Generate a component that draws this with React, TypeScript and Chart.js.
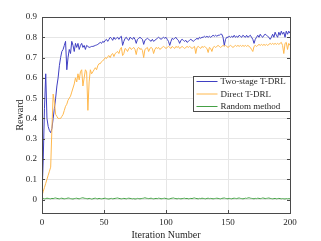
import { useEffect, useRef } from "react";
import { Chart, registerables } from "chart.js";

Chart.register(...registerables);

const seriesNames = ["Two-stage T-DRL", "Direct T-DRL", "Random method"];
const xTicks = [0, 50, 100, 150, 200];
const yTicks = [0, 0.1, 0.2, 0.3, 0.4, 0.5, 0.6, 0.7, 0.8, 0.9];

const twoStage = [
  0.02, 0.20, 0.45, 0.62, 0.40, 0.36, 0.34, 0.33, 0.35, 0.40,
  0.45, 0.50, 0.56, 0.60, 0.66, 0.70, 0.73, 0.74, 0.76, 0.78,
  0.64, 0.70, 0.74, 0.72, 0.78, 0.76, 0.73, 0.77, 0.75, 0.77,
  0.74, 0.76, 0.77, 0.75, 0.76, 0.74, 0.76, 0.755, 0.75, 0.752,
  0.755, 0.755, 0.757, 0.76, 0.762, 0.765, 0.77, 0.775, 0.77, 0.78,
  0.775, 0.785, 0.79, 0.78, 0.79, 0.80, 0.795, 0.785, 0.80, 0.79,
  0.795, 0.80, 0.79, 0.80, 0.805, 0.76, 0.78, 0.795, 0.80, 0.79,
  0.785, 0.80, 0.795, 0.79, 0.80, 0.79, 0.77, 0.79, 0.795, 0.80,
  0.795, 0.79, 0.765, 0.785, 0.79, 0.795, 0.79, 0.785, 0.78, 0.79,
  0.78, 0.785, 0.79, 0.795, 0.80, 0.795, 0.79, 0.795, 0.80, 0.795,
  0.80, 0.79, 0.78, 0.76, 0.78, 0.795, 0.79, 0.795, 0.80, 0.79,
  0.785, 0.77, 0.785, 0.79, 0.785, 0.78, 0.785, 0.775, 0.78, 0.785,
  0.79, 0.785, 0.78, 0.785, 0.79, 0.795, 0.79, 0.80, 0.795, 0.80,
  0.80, 0.805, 0.80, 0.805, 0.80, 0.805, 0.80, 0.805, 0.81, 0.805,
  0.81, 0.805, 0.81, 0.81, 0.815, 0.815, 0.80, 0.76, 0.79, 0.80,
  0.80, 0.805, 0.80, 0.805, 0.80, 0.81, 0.80, 0.805, 0.80, 0.81,
  0.805, 0.80, 0.81, 0.805, 0.80, 0.81, 0.80, 0.805, 0.81, 0.80,
  0.79, 0.77, 0.79, 0.80, 0.81, 0.80, 0.815, 0.805, 0.80, 0.81,
  0.815, 0.81, 0.805, 0.80, 0.79, 0.80, 0.815, 0.80, 0.825, 0.81,
  0.80, 0.825, 0.81, 0.83, 0.815, 0.825, 0.80, 0.83, 0.815, 0.83,
  0.82,
];

const direct = [
  0.02, 0.04, 0.06, 0.08, 0.10, 0.12, 0.14, 0.16, 0.35, 0.52,
  0.48, 0.42, 0.41, 0.40, 0.40, 0.40, 0.41, 0.42, 0.44, 0.46,
  0.47, 0.49, 0.50, 0.51, 0.53, 0.55, 0.57, 0.60, 0.58, 0.62,
  0.59, 0.63, 0.64, 0.56, 0.60, 0.64, 0.63, 0.44, 0.58, 0.64,
  0.62, 0.63, 0.64, 0.65, 0.64, 0.66, 0.67, 0.67, 0.68, 0.685,
  0.69, 0.70, 0.695, 0.705, 0.71, 0.70, 0.715, 0.72, 0.705, 0.72,
  0.725, 0.73, 0.72, 0.74, 0.75, 0.71, 0.72, 0.745, 0.74, 0.73,
  0.745, 0.75, 0.74, 0.745, 0.75, 0.74, 0.715, 0.745, 0.75, 0.74,
  0.745, 0.735, 0.70, 0.74, 0.745, 0.75, 0.73, 0.745, 0.75, 0.745,
  0.72, 0.74, 0.75, 0.745, 0.75, 0.74, 0.745, 0.75, 0.755, 0.75,
  0.745, 0.75, 0.755, 0.75, 0.745, 0.755, 0.75, 0.745, 0.755, 0.75,
  0.755, 0.745, 0.75, 0.755, 0.75, 0.745, 0.75, 0.755, 0.75, 0.755,
  0.75, 0.745, 0.75, 0.755, 0.72, 0.75, 0.755, 0.75, 0.745, 0.755,
  0.75, 0.755, 0.75, 0.745, 0.725, 0.75, 0.745, 0.73, 0.75, 0.755,
  0.75, 0.755, 0.76, 0.755, 0.75, 0.755, 0.76, 0.755, 0.76, 0.755,
  0.75, 0.755, 0.76, 0.755, 0.75, 0.755, 0.76, 0.755, 0.76, 0.755,
  0.76, 0.755, 0.76, 0.755, 0.76, 0.755, 0.76, 0.755, 0.75, 0.74,
  0.73, 0.755, 0.76, 0.755, 0.76, 0.765, 0.76, 0.765, 0.76, 0.765,
  0.76, 0.765, 0.76, 0.765, 0.77, 0.765, 0.77, 0.765, 0.77, 0.765,
  0.77, 0.765, 0.77, 0.775, 0.76, 0.72, 0.77, 0.775, 0.74, 0.77,
  0.76,
];

const randomMethod = [
  0.005, 0.006, 0.004, 0.005, 0.007, 0.006, 0.005, 0.004, 0.006, 0.005,
  0.007, 0.008, 0.006, 0.005, 0.004, 0.006, 0.007, 0.005, 0.004, 0.005,
  0.006, 0.008, 0.007, 0.005, 0.004, 0.003, 0.005, 0.006, 0.007, 0.005,
  0.004, 0.006, 0.008, 0.009, 0.007, 0.006, 0.005, 0.004, 0.006, 0.005,
  0.003, 0.004, 0.006, 0.007, 0.005, 0.004, 0.006, 0.005, 0.004, 0.005,
  0.006, 0.007, 0.005, 0.004, 0.003, 0.005, 0.006, 0.004, 0.005, 0.006,
  0.007, 0.008, 0.006, 0.005, 0.004, 0.005, 0.006, 0.005, 0.004, 0.006,
  0.007, 0.006, 0.005, 0.004, 0.005, 0.003, 0.004, 0.006, 0.005, 0.004,
  0.005, 0.006, 0.007, 0.009, 0.007, 0.006, 0.005, 0.006, 0.007, 0.005,
  0.004, 0.005, 0.006, 0.005, 0.007, 0.006, 0.004, 0.005, 0.006, 0.007,
  0.005, 0.004, 0.003, 0.004, 0.006, 0.007, 0.008, 0.006, 0.005, 0.004,
  0.006, 0.005, 0.004, 0.005, 0.006, 0.007, 0.005, 0.006, 0.004, 0.005,
  0.006, 0.005, 0.007, 0.008, 0.006, 0.005, 0.004, 0.006, 0.005, 0.007,
  0.006, 0.005, 0.004, 0.006, 0.007, 0.005, 0.006, 0.005, 0.004, 0.005,
  0.006, 0.007, 0.006, 0.005, 0.004, 0.006, 0.007, 0.008, 0.006, 0.005,
  0.004, 0.006, 0.005, 0.004, 0.006, 0.007, 0.006, 0.005, 0.007, 0.008,
  0.006, 0.005, 0.004, 0.005, 0.007, 0.006, 0.008, 0.009, 0.007, 0.006,
  0.005, 0.004, 0.006, 0.005, 0.007, 0.006, 0.005, 0.006, 0.008, 0.007,
  0.005, 0.006, 0.007, 0.008, 0.006, 0.005, 0.004, 0.005, 0.006, 0.004,
  0.005, 0.006, 0.005, 0.004, 0.005, 0.004, 0.003, 0.005, 0.004, 0.005,
  0.004,
];

const colors = ["#3f3fc2", "#ffb84d", "#45a045"];
const FONT = "'Liberation Serif', 'Times New Roman', serif";
const TEXT = "#262626";
const AXIS = "#4a4a4a";

const toPoints = (vals: number[]) => vals.map((v, i) => ({ x: i, y: v }));

const framePlugin = {
  id: "frame",
  afterDraw(chart: any) {
    const { ctx, chartArea, scales } = chart;
    const { left, right, top, bottom } = chartArea;
    const x = scales.x;
    const y = scales.y;
    ctx.save();
    ctx.strokeStyle = AXIS;
    ctx.lineWidth = 1;
    ctx.beginPath();
    xTicks.forEach((t) => {
      const px = Math.round(x.getPixelForValue(t)) + 0.5;
      ctx.moveTo(px, bottom);
      ctx.lineTo(px, bottom - 3);
      ctx.moveTo(px, top);
      ctx.lineTo(px, top + 3);
    });
    yTicks.forEach((t) => {
      const py = Math.round(y.getPixelForValue(t)) + 0.5;
      ctx.moveTo(left, py);
      ctx.lineTo(left + 3, py);
      ctx.moveTo(right, py);
      ctx.lineTo(right - 3, py);
    });
    ctx.stroke();
    ctx.strokeRect(
      Math.round(left) + 0.5,
      Math.round(top) + 0.5,
      Math.round(right - left),
      Math.round(bottom - top)
    );

    // legend
    const bx = Math.round(right) - 97 + 0.5;
    const by = Math.round(top) + 59 + 0.5;
    const bw = 97;
    const bh = 35;
    ctx.fillStyle = "#ffffff";
    ctx.fillRect(bx, by, bw, bh);
    ctx.strokeStyle = AXIS;
    ctx.strokeRect(bx, by, bw, bh);
    ctx.font = `9px ${FONT}`;
    ctx.textBaseline = "middle";
    ctx.textAlign = "left";
    chart.data.datasets.forEach((ds: any, i: number) => {
      const ly = by + 5 + i * 12.5;
      ctx.strokeStyle = ds.borderColor;
      ctx.lineWidth = 1;
      ctx.beginPath();
      ctx.moveTo(bx + 3, ly);
      ctx.lineTo(bx + 24, ly);
      ctx.stroke();
      ctx.fillStyle = TEXT;
      ctx.fillText(ds.label, bx + 27, ly + 0.5);
    });
    ctx.restore();
  },
};

export default function App() {
  const ref = useRef<HTMLCanvasElement | null>(null);

  useEffect(() => {
    if (!ref.current) return;
    const chart = new Chart(ref.current, {
      type: "line",
      data: {
        datasets: [
          { label: seriesNames[0], data: toPoints(twoStage), borderColor: colors[0], backgroundColor: colors[0], borderWidth: 1, pointRadius: 0, tension: 0, order: 3 },
          { label: seriesNames[1], data: toPoints(direct), borderColor: colors[1], backgroundColor: colors[1], borderWidth: 1, pointRadius: 0, tension: 0, order: 2 },
          { label: seriesNames[2], data: toPoints(randomMethod), borderColor: colors[2], backgroundColor: colors[2], borderWidth: 1, pointRadius: 0, tension: 0, order: 1 },
        ],
      },
      options: {
        responsive: false,
        animation: false,
        layout: { padding: { left: 0, top: 17, right: 31, bottom: 0 } },
        plugins: { legend: { display: false }, tooltip: { enabled: false } },
        scales: {
          x: {
            type: "linear",
            min: 0,
            max: 200,
            afterFit: (s: any) => { s.height = 28; },
            afterBuildTicks: (s: any) => { s.ticks = xTicks.map((v) => ({ value: v })); },
            ticks: { color: TEXT, font: { family: FONT, size: 9 }, padding: 4, maxRotation: 0 },
            grid: { color: "#e6e6e6", drawTicks: false, lineWidth: 1 },
            border: { display: false },
            title: { display: true, text: "Iteration Number", color: TEXT, font: { family: FONT, size: 10 }, padding: { top: 0, bottom: 0 } },
          },
          y: {
            type: "linear",
            min: -0.066,
            max: 0.9,
            afterFit: (s: any) => { s.width = 42; },
            afterBuildTicks: (s: any) => { s.ticks = yTicks.map((v) => ({ value: v })); },
            ticks: { color: TEXT, font: { family: FONT, size: 9 }, padding: 5, callback: (v: any) => String(Math.round(Number(v) * 10) / 10) },
            grid: { color: "#e6e6e6", drawTicks: false, lineWidth: 1 },
            border: { display: false },
            title: { display: true, text: "Reward", color: TEXT, font: { family: FONT, size: 10 }, padding: { top: 14, bottom: 0 } },
          },
        },
      },
      plugins: [framePlugin],
    });
    return () => chart.destroy();
  }, []);

  return (
    <div style={{ position: "fixed", left: 0, top: 0, width: 321, height: 241, background: "#fff" }}>
      <canvas ref={ref} width={321} height={241} style={{ display: "block" }} />
    </div>
  );
}
